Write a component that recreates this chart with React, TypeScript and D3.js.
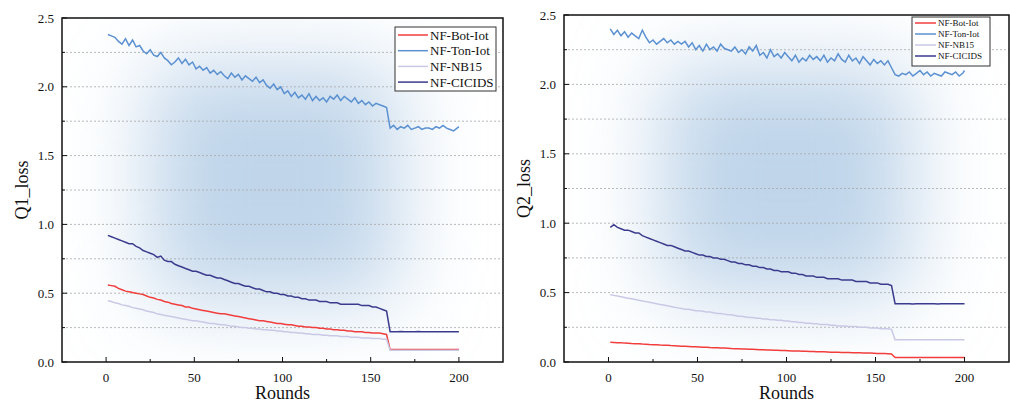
import { useEffect, useRef } from 'react';
import * as d3 from 'd3';

// rounds sampled every other round, plus the last one
const rounds = [...d3.range(1, 200, 2), 200];

const seriesNames = ['NF-Bot-Iot', 'NF-Ton-Iot', 'NF-NB15', 'NF-CICIDS'];
const seriesColors = ['#f23d3d', '#5b91d1', '#c9c9e6', '#3b3b8e'];

// ---------- Q1 loss ----------
const q1BotIot = [
  0.56, 0.555, 0.55, 0.535, 0.525, 0.515, 0.51, 0.505, 0.5, 0.495,
  0.49, 0.48, 0.47, 0.465, 0.455, 0.45, 0.44, 0.435, 0.425, 0.42,
  0.415, 0.41, 0.4, 0.4, 0.39, 0.385, 0.38, 0.375, 0.37, 0.365,
  0.36, 0.355, 0.35, 0.35, 0.345, 0.34, 0.335, 0.33, 0.325, 0.32,
  0.315, 0.31, 0.305, 0.3, 0.3, 0.295, 0.29, 0.285, 0.28, 0.28,
  0.275, 0.27, 0.27, 0.265, 0.26, 0.26, 0.255, 0.255, 0.25, 0.25,
  0.245, 0.245, 0.24, 0.24, 0.235, 0.235, 0.23, 0.23, 0.225, 0.225,
  0.22, 0.22, 0.22, 0.215, 0.215, 0.21, 0.21, 0.21, 0.205, 0.2,
  0.09, 0.09, 0.09, 0.09, 0.09, 0.09, 0.09, 0.09, 0.09, 0.09,
  0.09, 0.09, 0.09, 0.09, 0.09, 0.09, 0.09, 0.09, 0.09, 0.09, 0.09,
];
const q1TonIot = [
  2.38, 2.37, 2.36, 2.33, 2.31, 2.35, 2.3, 2.34, 2.29, 2.3,
  2.26, 2.24, 2.27, 2.23, 2.22, 2.25, 2.21, 2.19, 2.16, 2.18,
  2.21, 2.17, 2.2, 2.16, 2.18, 2.13, 2.15, 2.12, 2.14, 2.1,
  2.12, 2.09, 2.11, 2.08, 2.06, 2.1, 2.07, 2.09, 2.05, 2.08,
  2.06, 2.04, 2.07, 2.03, 2.05, 2.01, 1.99, 2.02, 1.98, 2.0,
  1.95, 1.97, 1.93, 1.96, 1.92, 1.94, 1.91, 1.95, 1.9, 1.93,
  1.9, 1.92, 1.89, 1.93, 1.91, 1.94, 1.9, 1.93, 1.91, 1.89,
  1.92, 1.88, 1.9, 1.87, 1.89, 1.86, 1.88, 1.87, 1.86, 1.85,
  1.7, 1.72, 1.69, 1.71, 1.7, 1.72, 1.69, 1.7, 1.71, 1.69,
  1.7, 1.7, 1.69, 1.71, 1.7, 1.72, 1.7, 1.69, 1.68, 1.7, 1.71,
];
const q1NB15 = [
  0.445, 0.44, 0.43, 0.425, 0.415, 0.41, 0.405, 0.395, 0.39, 0.385,
  0.38, 0.37, 0.365, 0.36, 0.35, 0.345, 0.34, 0.335, 0.33, 0.325,
  0.32, 0.315, 0.31, 0.305, 0.3, 0.3, 0.295, 0.29, 0.285, 0.28,
  0.28, 0.275, 0.27, 0.27, 0.265, 0.26, 0.26, 0.255, 0.25, 0.25,
  0.245, 0.245, 0.24, 0.24, 0.235, 0.235, 0.23, 0.23, 0.225, 0.225,
  0.22, 0.22, 0.215, 0.215, 0.21, 0.21, 0.205, 0.205, 0.2, 0.2,
  0.2, 0.195, 0.195, 0.19, 0.19, 0.19, 0.185, 0.185, 0.185, 0.18,
  0.18, 0.18, 0.175, 0.175, 0.175, 0.17, 0.17, 0.17, 0.165, 0.165,
  0.085, 0.085, 0.085, 0.085, 0.085, 0.085, 0.085, 0.085, 0.085, 0.085,
  0.085, 0.085, 0.085, 0.085, 0.085, 0.085, 0.085, 0.085, 0.085, 0.085, 0.085,
];
const q1CICIDS = [
  0.92, 0.91, 0.9, 0.89, 0.88, 0.87, 0.86, 0.86, 0.84, 0.83,
  0.81, 0.8, 0.79, 0.78, 0.76, 0.77, 0.74, 0.73, 0.73, 0.71,
  0.7, 0.69, 0.68, 0.67, 0.66, 0.66, 0.65, 0.64, 0.63, 0.63,
  0.62, 0.61, 0.61, 0.6, 0.59, 0.58, 0.57, 0.57, 0.56, 0.55,
  0.55, 0.54, 0.53, 0.53, 0.52, 0.51, 0.51, 0.5, 0.5, 0.49,
  0.49, 0.48, 0.48, 0.47, 0.47, 0.46, 0.46, 0.45, 0.45, 0.45,
  0.44, 0.44, 0.44, 0.43, 0.43, 0.43, 0.42, 0.42, 0.42, 0.42,
  0.42, 0.42, 0.41, 0.41, 0.41, 0.4, 0.4, 0.39, 0.38, 0.37,
  0.22, 0.22, 0.22, 0.222, 0.22, 0.22, 0.22, 0.22, 0.222, 0.22,
  0.22, 0.22, 0.22, 0.22, 0.22, 0.22, 0.22, 0.22, 0.22, 0.22, 0.22,
];

// ---------- Q2 loss ----------
const q2BotIot = [
  0.142, 0.141, 0.139, 0.138, 0.136, 0.135, 0.133, 0.132, 0.131, 0.129,
  0.128, 0.126, 0.125, 0.124, 0.122, 0.121, 0.12, 0.118, 0.117, 0.116,
  0.114, 0.113, 0.112, 0.11, 0.109, 0.108, 0.107, 0.106, 0.104, 0.103,
  0.102, 0.101, 0.1, 0.099, 0.097, 0.096, 0.095, 0.094, 0.093, 0.092,
  0.091, 0.09, 0.089, 0.088, 0.087, 0.086, 0.085, 0.084, 0.083, 0.082,
  0.081, 0.08, 0.079, 0.079, 0.078, 0.077, 0.076, 0.075, 0.074, 0.074,
  0.073, 0.072, 0.071, 0.071, 0.07, 0.069, 0.068, 0.068, 0.067, 0.066,
  0.066, 0.065, 0.064, 0.064, 0.063, 0.062, 0.062, 0.061, 0.06, 0.058,
  0.032, 0.032, 0.032, 0.032, 0.032, 0.032, 0.032, 0.032, 0.032, 0.032,
  0.032, 0.032, 0.032, 0.032, 0.032, 0.032, 0.032, 0.032, 0.032, 0.032, 0.032,
];
const q2TonIot = [
  2.4, 2.36, 2.39, 2.35, 2.38, 2.34, 2.37, 2.35, 2.33, 2.39,
  2.34, 2.3, 2.32, 2.29, 2.31, 2.33, 2.3, 2.32, 2.29, 2.31,
  2.29, 2.31, 2.27, 2.3, 2.25, 2.28, 2.24, 2.29, 2.25, 2.27,
  2.24, 2.29, 2.26, 2.25, 2.24, 2.27, 2.23, 2.25, 2.22, 2.27,
  2.24, 2.28, 2.21, 2.23, 2.19, 2.25, 2.2, 2.22, 2.19, 2.23,
  2.2, 2.17, 2.21, 2.16, 2.19, 2.17, 2.21, 2.18, 2.2, 2.17,
  2.21, 2.16, 2.19, 2.17, 2.22, 2.18, 2.16, 2.21, 2.17, 2.19,
  2.15, 2.2, 2.17, 2.14, 2.18, 2.15, 2.17, 2.14, 2.17, 2.12,
  2.07, 2.06, 2.08, 2.07, 2.09, 2.06, 2.08, 2.1, 2.07, 2.09,
  2.06, 2.08, 2.07, 2.06, 2.09, 2.08, 2.07, 2.09, 2.06, 2.08, 2.1,
];
const q2NB15 = [
  0.485, 0.48, 0.475, 0.47, 0.465, 0.46, 0.455, 0.45, 0.445, 0.44,
  0.435, 0.43, 0.425, 0.42, 0.415, 0.41, 0.405, 0.4, 0.395, 0.39,
  0.385, 0.38, 0.38, 0.375, 0.37, 0.37, 0.365, 0.36, 0.36, 0.355,
  0.35, 0.35, 0.345, 0.34, 0.34, 0.335, 0.33, 0.33, 0.325, 0.32,
  0.32, 0.315, 0.315, 0.31, 0.31, 0.305, 0.305, 0.3, 0.3, 0.295,
  0.295, 0.29, 0.29, 0.285, 0.285, 0.28, 0.28, 0.275, 0.275, 0.27,
  0.27, 0.27, 0.265, 0.265, 0.26, 0.26, 0.26, 0.255, 0.255, 0.255,
  0.25, 0.25, 0.25, 0.245, 0.245, 0.245, 0.24, 0.24, 0.24, 0.235,
  0.16, 0.16, 0.16, 0.16, 0.16, 0.16, 0.16, 0.16, 0.16, 0.16,
  0.16, 0.16, 0.16, 0.16, 0.16, 0.16, 0.16, 0.16, 0.16, 0.16, 0.16,
];
const q2CICIDS = [
  0.97, 0.99, 0.97, 0.96, 0.95, 0.95, 0.94, 0.93, 0.93, 0.91,
  0.9, 0.89, 0.88, 0.87, 0.86, 0.85, 0.84, 0.84, 0.83, 0.82,
  0.81, 0.8, 0.8, 0.79, 0.78, 0.77, 0.77, 0.76, 0.76, 0.75,
  0.75, 0.74, 0.74, 0.73, 0.72, 0.72, 0.71, 0.71, 0.7, 0.7,
  0.69, 0.69, 0.68, 0.68, 0.67, 0.67, 0.66, 0.66, 0.65, 0.65,
  0.65, 0.64, 0.64, 0.63, 0.63, 0.62, 0.62, 0.62, 0.61, 0.61,
  0.61, 0.6, 0.6, 0.6, 0.6, 0.59, 0.59, 0.59, 0.59, 0.58,
  0.58, 0.58, 0.58, 0.57, 0.57, 0.57, 0.56, 0.56, 0.56, 0.55,
  0.42, 0.42, 0.42, 0.42, 0.42, 0.418, 0.42, 0.42, 0.42, 0.42,
  0.42, 0.42, 0.418, 0.42, 0.42, 0.42, 0.42, 0.42, 0.42, 0.42, 0.42,
];

const yTicks = [0, 0.5, 1.0, 1.5, 2.0, 2.5];
const xTicks = [0, 50, 100, 150, 200];

const FONT = '"Liberation Serif", "Times New Roman", serif';

const panels = [
  {
    id: 'q1', title: 'Q1_loss', left: 62, right: 503, top: 18, bottom: 362,
    data: [q1BotIot, q1TonIot, q1NB15, q1CICIDS],
    legend: { x: 395, y: 27, w: 101, h: 64, line: 30, font: 13, row: 15.7 },
    glow: { x: 0.2, w: 0.56, y: 0.14, h: 0.68 },
  },
  {
    id: 'q2', title: 'Q2_loss', left: 564, right: 1009, top: 15, bottom: 362,
    data: [q2BotIot, q2TonIot, q2NB15, q2CICIDS],
    legend: { x: 912, y: 17, w: 78, h: 49, line: 21, font: 9, row: 11 },
    glow: { x: 0.22, w: 0.56, y: 0.15, h: 0.66 },
  },
];

const App = () => {
  const ref = useRef(null);

  useEffect(() => {
    const svg = d3.select(ref.current);
    svg.selectAll('*').remove();
    const defs = svg.append('defs');

    const blur = defs.append('filter').attr('id', 'soft')
      .attr('x', '-60%').attr('y', '-60%').attr('width', '220%').attr('height', '220%');
    blur.append('feGaussianBlur').attr('stdDeviation', 42);

    panels.forEach(p => {
      const x = d3.scaleLinear().domain([-25, 225]).range([p.left, p.right]);
      const y = d3.scaleLinear().domain([0, 2.5]).range([p.bottom, p.top]);
      const pw = p.right - p.left;
      const ph = p.bottom - p.top;

      defs.append('clipPath').attr('id', `clip-${p.id}`)
        .append('rect')
        .attr('x', p.left).attr('y', p.top).attr('width', pw).attr('height', ph);

      const g = svg.append('g');

      // soft blue glow in the background
      const bg = g.append('g').attr('clip-path', `url(#clip-${p.id})`);
      bg.append('rect')
        .attr('x', p.left).attr('y', p.top).attr('width', pw).attr('height', ph)
        .attr('fill', '#ffffff');
      bg.append('rect')
        .attr('x', p.left + p.glow.x * pw).attr('y', p.top + p.glow.y * ph)
        .attr('width', p.glow.w * pw).attr('height', p.glow.h * ph)
        .attr('fill', '#c0d5ea')
        .attr('filter', 'url(#soft)');

      // dashed grid every 0.25
      const grid = d3.range(0.25, 2.5, 0.25);
      g.selectAll('.grid').data(grid).enter().append('line')
        .attr('x1', p.left).attr('x2', p.right)
        .attr('y1', d => y(d)).attr('y2', d => y(d))
        .attr('stroke', '#a8a8a8').attr('stroke-width', 0.8)
        .attr('stroke-dasharray', '2,2');

      // lines
      const line = d3.line<number>()
        .x((d, i) => x(rounds[i]))
        .y(d => y(d));
      p.data.forEach((vals, k) => {
        g.append('path')
          .attr('d', line(vals))
          .attr('fill', 'none')
          .attr('stroke', seriesColors[k])
          .attr('stroke-width', 1.5);
      });

      // frame
      g.append('rect')
        .attr('x', p.left).attr('y', p.top).attr('width', pw).attr('height', ph)
        .attr('fill', 'none').attr('stroke', '#111').attr('stroke-width', 1.5);

      // y ticks (inside)
      d3.range(0, 2.51, 0.25).forEach((v, i) => {
        g.append('line')
          .attr('x1', p.left).attr('x2', p.left + (i % 2 === 0 ? 5 : 3))
          .attr('y1', y(v)).attr('y2', y(v))
          .attr('stroke', '#111').attr('stroke-width', 1);
      });
      g.selectAll('.ylab').data(yTicks).enter().append('text')
        .attr('x', p.left - 8).attr('y', d => y(d))
        .attr('dy', '0.35em').attr('text-anchor', 'end')
        .attr('font-family', FONT).attr('font-size', 13).attr('fill', '#111')
        .text(d => d3.format('.1f')(d));

      // x ticks (inside)
      d3.range(0, 201, 25).forEach((v, i) => {
        g.append('line')
          .attr('x1', x(v)).attr('x2', x(v))
          .attr('y1', p.bottom).attr('y2', p.bottom - (i % 2 === 0 ? 5 : 3))
          .attr('stroke', '#111').attr('stroke-width', 1);
      });
      g.selectAll('.xlab').data(xTicks).enter().append('text')
        .attr('x', d => x(d)).attr('y', p.bottom + 20)
        .attr('text-anchor', 'middle')
        .attr('font-family', FONT).attr('font-size', 13).attr('fill', '#111')
        .text(d => d);

      // axis titles
      g.append('text')
        .attr('x', (p.left + p.right) / 2).attr('y', p.bottom + 37)
        .attr('text-anchor', 'middle')
        .attr('font-family', FONT).attr('font-size', 18).attr('fill', '#111')
        .text('Rounds');
      g.append('text')
        .attr('transform', `translate(${p.left - 34},${(p.top + p.bottom) / 2}) rotate(-90)`)
        .attr('text-anchor', 'middle')
        .attr('font-family', FONT).attr('font-size', 18).attr('fill', '#111')
        .text(p.title);

      // legend
      const L = p.legend;
      const lg = g.append('g');
      lg.append('rect')
        .attr('x', L.x).attr('y', L.y).attr('width', L.w).attr('height', L.h)
        .attr('fill', '#fff').attr('stroke', '#333').attr('stroke-width', 1);
      seriesNames.forEach((name, k) => {
        const cy = L.y + 8 + k * L.row + (L.font < 10 ? -2 : 0);
        lg.append('line')
          .attr('x1', L.x + 3).attr('x2', L.x + 3 + L.line)
          .attr('y1', cy).attr('y2', cy)
          .attr('stroke', seriesColors[k]).attr('stroke-width', 1.5);
        lg.append('text')
          .attr('x', L.x + 5 + L.line).attr('y', cy)
          .attr('dy', '0.35em')
          .attr('font-family', FONT).attr('font-size', L.font).attr('fill', '#111')
          .text(name);
      });
    });
  }, []);

  return (
    <svg ref={ref} width={1010} height={404}
      style={{ position: 'absolute', left: 0, top: 0, background: '#fff' }} />
  );
};

export default App;
